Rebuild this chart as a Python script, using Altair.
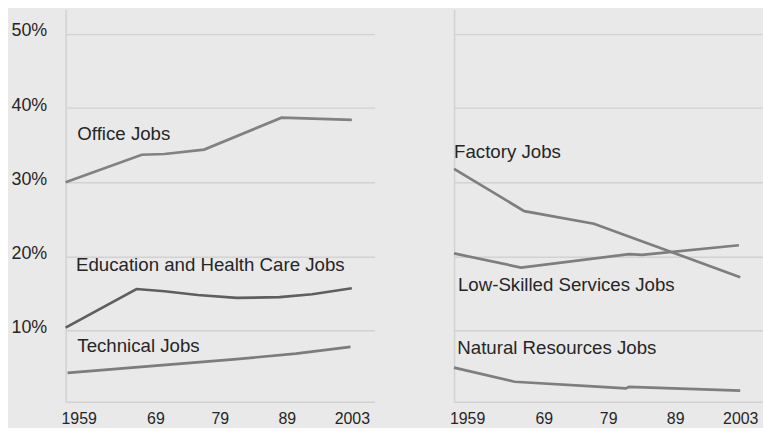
import altair as alt
import pandas as pd

# ---- data ----
office_years = [1959, 1970.7, 1974.2, 1980.3, 1992.2, 2003]
office_vals = [30.0, 33.7, 33.8, 34.4, 38.7, 38.4]

edu_years = [1959, 1969.9, 1974.2, 1979.3, 1985.3, 1991.9, 1996.9, 2003]
edu_vals = [10.4, 15.6, 15.3, 14.8, 14.4, 14.5, 14.9, 15.7]

tech_years = [1959.3, 1969.2, 1985.3, 1994.4, 2002.8]
tech_vals = [4.3, 5.0, 6.15, 6.9, 7.8]

factory_years = [1959, 1969.8, 1980.5, 2003]
factory_vals = [31.8, 26.1, 24.4, 17.2]

lowskill_years = [1959, 1969.3, 1985.9, 1987.9, 2002.8]
lowskill_vals = [20.4, 18.5, 20.3, 20.2, 21.5]

natres_years = [1959, 1968.3, 1981.0, 1985.4, 1985.9, 2003]
natres_vals = [5.0, 3.1, 2.45, 2.2, 2.4, 1.9]

series_names = ["Office Jobs", "Education and Health Care Jobs", "Technical Jobs",
                "Factory Jobs", "Low-Skilled Services Jobs", "Natural Resources Jobs"]
series_colors = ["#818181", "#5e5e5e", "#7c7c7c", "#7e7e7e", "#7e7e7e", "#7e7e7e"]

# label anchors (year, value) for the direct labels
label_years = [1960.8, 1960.6, 1960.8, 1959.0, 1959.6, 1959.5]
label_vals = [35.7, 18.05, 7.15, 33.3, 15.3, 6.9]

y_ticks = [10, 20, 30, 40, 50]
x_tick_vals = [1961, 1972.8, 1982.7, 1993, 2003]
x_tick_text = ["1959", "69", "79", "89", "2003"]


def long_df(pairs):
    rows = []
    for name, ys, vs in pairs:
        for y, v in zip(ys, vs):
            rows.append({"series": name, "year": y, "value": v})
    return pd.DataFrame(rows)


left_lines = long_df([
    ("Office Jobs", office_years, office_vals),
    ("Education and Health Care Jobs", edu_years, edu_vals),
    ("Technical Jobs", tech_years, tech_vals),
])
right_lines = long_df([
    ("Factory Jobs", factory_years, factory_vals),
    ("Low-Skilled Services Jobs", lowskill_years, lowskill_vals),
    ("Natural Resources Jobs", natres_years, natres_vals),
])

labels = pd.DataFrame({"series": series_names, "year": label_years, "value": label_vals})
left_labels = labels.iloc[:3]
right_labels = labels.iloc[3:]

FONT = "Liberation Sans"
GRID = "#d2d2d2"
TEXT = "#262626"

label_expr = "[" + ",".join('"%s"' % t for t in x_tick_text) + "][indexof([" + \
    ",".join(str(v) for v in x_tick_vals) + "], datum.value)]"

x_scale = alt.Scale(domain=[1959, 2006.5], nice=False, zero=False)
y_scale = alt.Scale(domain=[0.4, 53.3], nice=False, zero=False)
color_scale = alt.Scale(domain=series_names, range=series_colors)

x_axis = alt.Axis(values=x_tick_vals, labelExpr=label_expr, ticks=False, grid=False,
                  labelPadding=9, labelFontSize=16, labelColor=TEXT, labelFont=FONT,
                  domainColor=GRID, domainWidth=1.5, title=None)


def panel(lines_df, labels_df, show_y_labels):
    y_axis = alt.Axis(values=y_ticks, labelExpr="datum.value + '%'", ticks=False,
                      grid=True, gridColor=GRID, gridWidth=1.3,
                      labels=show_y_labels, labelPadding=19, labelFontSize=18,
                      labelColor=TEXT, labelFont=FONT, labelOffset=-3,
                      domainColor=GRID, domainWidth=1.5, title=None)
    lines = alt.Chart(lines_df).mark_line(strokeWidth=2.7).encode(
        x=alt.X("year:Q", scale=x_scale, axis=x_axis),
        y=alt.Y("value:Q", scale=y_scale, axis=y_axis),
        color=alt.Color("series:N", scale=color_scale, legend=None),
        detail="series:N",
    )
    texts = alt.Chart(labels_df).mark_text(
        align="left", baseline="alphabetic", fontSize=18.8, font=FONT, color=TEXT
    ).encode(
        x=alt.X("year:Q", scale=x_scale),
        y=alt.Y("value:Q", scale=y_scale),
        text="series:N",
    )
    return alt.layer(lines, texts).properties(width=311, height=395)


chart = alt.hconcat(
    panel(left_lines, left_labels, True),
    panel(right_lines, right_labels, False),
    spacing=74,
).properties(
    background="#e9e9e9",
    padding={"left": 2, "top": 0, "right": 0, "bottom": 0},
).configure_view(stroke=None)

chart.save("out.html", embed_options={"renderer": "svg", "actions": False})
